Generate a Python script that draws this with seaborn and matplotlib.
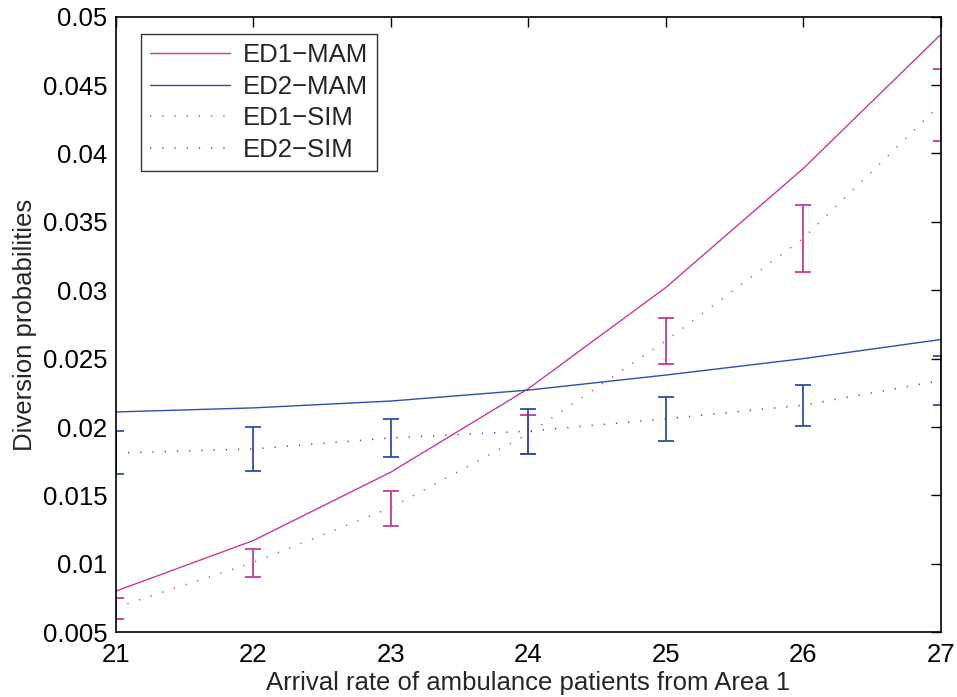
import numpy as np
import pandas as pd
import matplotlib
matplotlib.use("Agg")
import matplotlib.pyplot as plt
import seaborn as sns

# arrival rates (x axis)
rate = [21, 22, 23, 24, 25, 26, 27]

# analytical model (MAM)
ed1_mam = [0.0080, 0.0117, 0.0167, 0.0228, 0.0302, 0.0389, 0.0487]
ed2_mam = [0.0211, 0.0214, 0.0219, 0.0227, 0.0238, 0.0250, 0.0264]

# simulation (SIM) means with confidence intervals
ed1_sim = [0.0068, 0.0101, 0.0141, 0.0195, 0.0263, 0.0338, 0.0436]
ed1_lo = [0.0060, 0.0090, 0.0128, 0.0180, 0.0246, 0.0313, 0.0409]
ed1_hi = [0.0075, 0.0111, 0.0153, 0.0209, 0.0280, 0.0362, 0.0462]

ed2_sim = [0.0181, 0.0184, 0.0192, 0.0197, 0.0206, 0.0216, 0.0234]
ed2_lo = [0.0166, 0.0168, 0.0178, 0.0180, 0.0190, 0.0201, 0.0216]
ed2_hi = [0.0197, 0.0200, 0.0206, 0.0213, 0.0222, 0.0231, 0.0252]

pink = "#c43a9e"
blue = "#2f4ea8"

sns.set_style("white")
plt.rcParams["font.family"] = ["Liberation Sans", "DejaVu Sans"]

fig = plt.figure(figsize=(9.57, 6.97), dpi=100)
ax = fig.add_axes([0.121, 0.093, 0.862, 0.883])

df = pd.DataFrame({"rate": rate, "ed1_mam": ed1_mam, "ed2_mam": ed2_mam,
                   "ed1_sim": ed1_sim, "ed2_sim": ed2_sim})

dot = (0, (0.8, 7.2))
sns.lineplot(data=df, x="rate", y="ed1_mam", color=pink, lw=1, label="ED1\u2212MAM", ax=ax)
sns.lineplot(data=df, x="rate", y="ed2_mam", color=blue, lw=1, label="ED2\u2212MAM", ax=ax)
sns.lineplot(data=df, x="rate", y="ed1_sim", color=pink, lw=1.1, linestyle=dot, label="ED1\u2212SIM", ax=ax)
sns.lineplot(data=df, x="rate", y="ed2_sim", color=blue, lw=1.1, linestyle=dot, label="ED2\u2212SIM", ax=ax)

for m, lo, hi, c in [(ed1_sim, ed1_lo, ed1_hi, pink), (ed2_sim, ed2_lo, ed2_hi, blue)]:
    m = np.array(m)
    err = [m - np.array(lo), np.array(hi) - m]
    ax.errorbar(rate, m, yerr=err, fmt="none", ecolor=c, elinewidth=1.3,
                capsize=6, capthick=1.3)

ax.set_xlim(21, 27)
ax.set_ylim(0.005, 0.05)
ax.set_xticks(rate)
ax.set_yticks(np.arange(0.005, 0.0501, 0.005))
ax.set_yticklabels(["0.005", "0.01", "0.015", "0.02", "0.025", "0.03",
                    "0.035", "0.04", "0.045", "0.05"])
ax.tick_params(direction="in", length=7, width=1, labelsize=18.5, top=True, right=True,
               colors="black", pad=6)
ax.tick_params(axis="x", pad=8)
for s in ax.spines.values():
    s.set_color("black")
    s.set_linewidth(1.2)
ax.set_xlabel("Arrival rate of ambulance patients from Area 1", fontsize=18.5, labelpad=3)
ax.set_ylabel("Diversion probabilities", fontsize=18.5, labelpad=4)

leg = ax.legend(loc="upper left", bbox_to_anchor=(0.031, 0.972), fontsize=18.5,
                handlelength=3.1, frameon=True, fancybox=False, edgecolor="black",
                borderaxespad=0, labelspacing=0.3, handletextpad=0.5, borderpad=0.35)
leg.get_frame().set_linewidth(1)

fig.savefig("out.png", dpi=100)
